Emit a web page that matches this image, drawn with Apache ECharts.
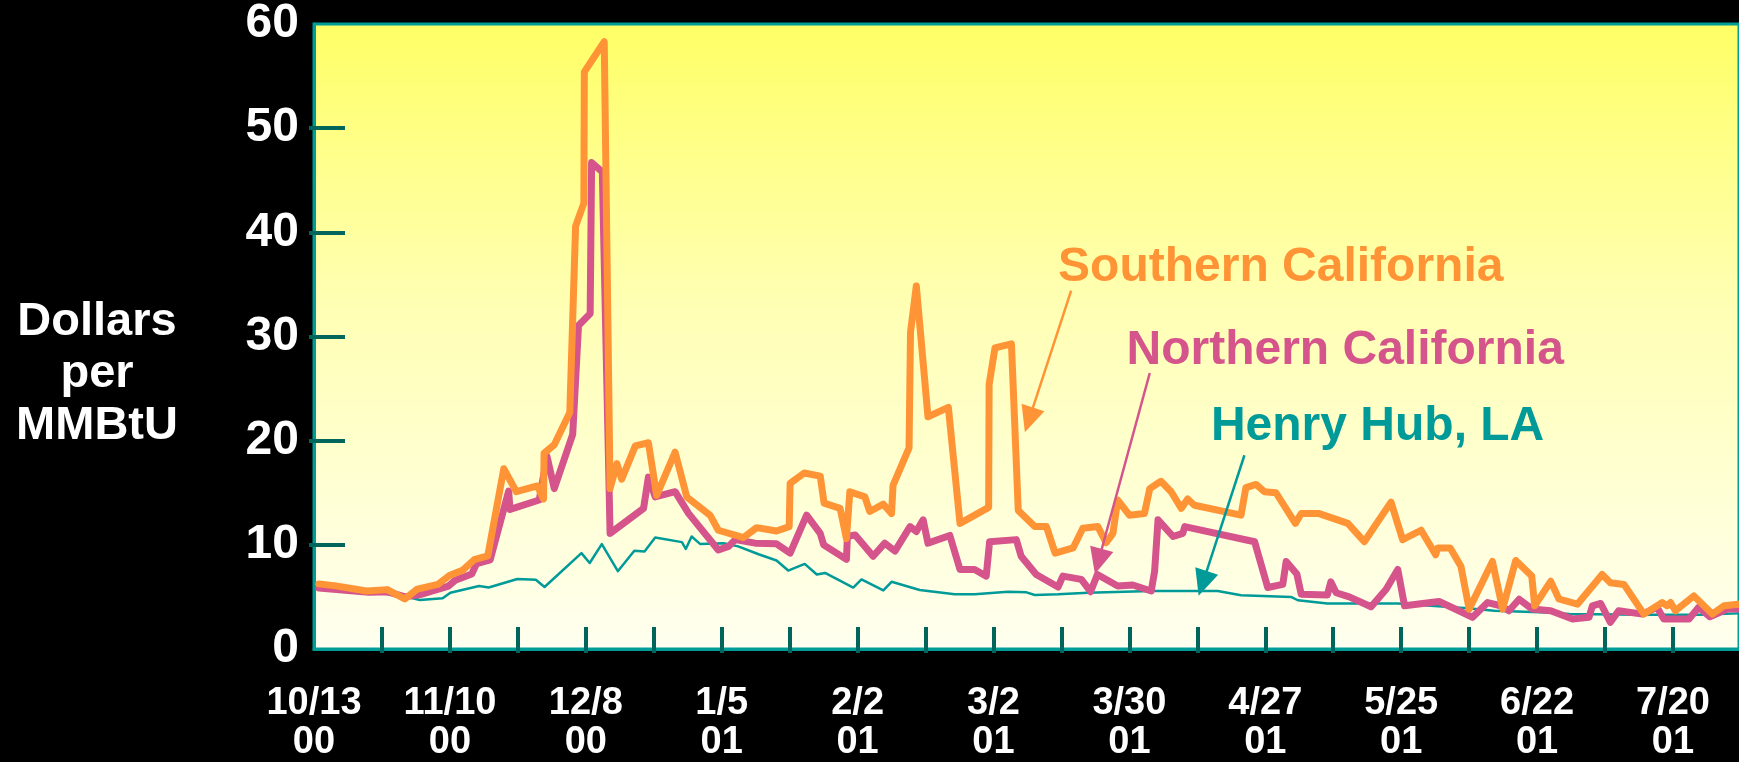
<!DOCTYPE html>
<html>
<head>
<meta charset="utf-8">
<title>California Natural Gas Prices</title>
<script src="https://cdn.jsdelivr.net/npm/echarts@6/dist/echarts.min.js"></script>
<style>
  html, body { margin: 0; padding: 0; background: #000; }
  #chart { width: 1739px; height: 762px; }
</style>
</head>
<body>
<div id="chart"></div>
<script>
// Days are counted from Friday 10/13/2000; prices in dollars per MMBtu.
const dateLabels = ['10/13\n00', '11/10\n00', '12/8\n00', '1/5\n01', '2/2\n01', '3/2\n01',
                    '3/30\n01', '4/27\n01', '5/25\n01', '6/22\n01', '7/20\n01'];
const labelDays = [0, 28, 56, 84, 112, 140, 168, 196, 224, 252, 280];
const tickDays = [14, 28, 42, 56, 70, 84, 98, 112, 126, 140, 154, 168, 182, 196, 210, 224, 238, 252, 266, 280];
const priceTicks = [10, 20, 30, 40, 50];

const southernCalifornia = [
  [1.0, 6.25], [4.5, 6.06], [10.8, 5.57], [15.1, 5.7], [18.7, 4.8], [21.3, 5.75], [25.5, 6.2],
  [27.9, 7.05], [30.6, 7.55], [33.0, 8.57], [35.8, 8.93], [39.1, 17.3], [41.7, 15.1], [46.0, 15.65],
  [47.3, 14.4], [47.4, 18.8], [49.5, 19.6], [52.7, 22.7], [53.9, 40.6], [55.6, 42.8], [55.7, 55.4],
  [59.8, 58.3], [61.0, 15.4], [62.4, 17.8], [63.4, 16.3], [66.2, 19.5], [68.9, 19.8], [70.6, 14.75],
  [74.4, 18.9], [76.8, 14.6], [81.6, 12.85], [83.3, 11.4], [88.5, 10.7], [91.2, 11.65], [95.3, 11.33],
  [97.9, 11.75], [98.1, 15.9], [101.0, 16.9], [104.3, 16.6], [105.1, 14.0], [108.4, 13.5], [109.7, 10.6],
  [110.4, 15.1], [113.5, 14.6], [114.5, 13.2], [117.3, 13.9], [119.0, 13.0], [119.3, 15.7], [122.6, 19.3],
  [122.9, 30.4], [124.1, 34.85], [126.5, 22.3], [130.7, 23.2], [133.1, 12.06], [139.0, 13.6], [139.1, 25.4],
  [140.3, 28.9], [143.7, 29.3], [145.1, 13.3], [148.5, 11.75], [150.9, 11.75], [152.7, 9.2], [156.4, 9.7],
  [158.4, 11.6], [161.5, 11.75], [163.2, 10.2], [164.6, 11.1], [165.6, 14.3], [168.0, 12.85], [171.1, 13.0],
  [172.2, 15.4], [174.5, 16.1], [176.6, 15.1], [178.7, 13.5], [180.0, 14.4], [181.4, 13.8], [191.0, 12.85],
  [192.0, 15.5], [194.1, 15.8], [195.8, 15.1], [198.2, 15.0], [202.2, 12.06], [203.4, 13.0], [207.1, 13.0],
  [213.0, 12.06], [216.4, 10.3], [221.9, 14.1], [224.3, 10.5], [228.1, 11.4], [231.1, 9.05], [231.5, 9.7],
  [234.1, 9.7], [236.3, 7.95], [238.0, 3.83], [242.8, 8.4], [244.9, 3.83], [247.6, 8.5], [250.9, 7.0],
  [251.5, 4.15], [254.8, 6.5], [256.5, 4.8], [260.3, 4.3], [265.4, 7.15], [267.1, 6.36], [269.9, 6.2],
  [274.0, 3.35], [277.8, 4.46], [278.8, 4.15], [279.5, 4.46], [280.5, 3.67], [284.3, 5.1], [288.1, 3.35],
  [290.5, 4.15], [293.5, 4.3]
];

const northernCalifornia = [
  [1.0, 5.85], [6.4, 5.65], [11.3, 5.45], [15.0, 5.5], [18.8, 5.0], [22.2, 5.26], [27.7, 6.04],
  [29.1, 6.6], [32.5, 7.2], [33.5, 8.2], [36.3, 8.56], [40.1, 15.15], [40.4, 13.4], [46.4, 14.3],
  [48.0, 18.5], [49.5, 15.4], [53.3, 20.6], [54.5, 31.05], [56.9, 32.2], [57.2, 46.7], [59.4, 45.8],
  [61.0, 11.1], [67.9, 13.5], [68.9, 16.5], [70.3, 14.6], [74.4, 15.1], [77.2, 13.0], [83.3, 9.5],
  [85.4, 9.85], [86.8, 10.5], [90.9, 10.16], [95.3, 10.1], [98.1, 9.2], [101.5, 12.85], [104.3, 11.1],
  [105.0, 10.0], [109.7, 8.6], [109.9, 10.8], [111.5, 10.95], [115.2, 8.9], [117.6, 10.16], [119.7, 9.4],
  [122.8, 11.75], [124.1, 11.27], [125.5, 12.4], [126.5, 10.16], [131.0, 10.9], [133.1, 7.63], [136.1, 7.63],
  [138.5, 7.0], [139.2, 10.3], [144.7, 10.5], [145.7, 8.9], [148.8, 7.15], [153.3, 5.95], [154.3, 7.0],
  [158.1, 6.68], [160.0, 5.5], [161.4, 7.15], [165.6, 6.05], [168.7, 6.14], [172.5, 5.57], [173.2, 7.47],
  [173.9, 12.4], [177.0, 10.8], [179.0, 11.1], [179.4, 11.75], [193.8, 10.3], [196.5, 5.9], [199.6, 6.2],
  [200.3, 8.4], [202.5, 7.2], [203.4, 5.25], [208.8, 5.19], [209.5, 6.45], [210.6, 5.4], [213.3, 5.0],
  [217.8, 4.05], [220.9, 5.73], [223.3, 7.63], [224.7, 4.15], [231.8, 4.56], [235.9, 3.67], [238.7, 3.04],
  [241.8, 4.46], [244.5, 4.15], [246.2, 3.67], [248.3, 4.78], [251.0, 3.83], [254.8, 3.67], [259.3, 2.88],
  [262.7, 3.04], [263.4, 4.15], [265.1, 4.37], [267.1, 2.56], [268.8, 3.67], [273.7, 3.35], [276.7, 4.0],
  [278.1, 2.88], [283.3, 2.88], [285.3, 4.0], [287.6, 3.1], [291.2, 3.83], [293.5, 3.83]
];

const henryHub = [
  [1.0, 5.8], [6.4, 5.65], [13.3, 5.38], [18.0, 5.1], [20.2, 4.9], [21.8, 4.7], [26.5, 4.87],
  [28.1, 5.4], [34.0, 6.05], [36.0, 5.9], [41.9, 6.72], [45.7, 6.65], [47.5, 5.95], [55.1, 9.2],
  [56.8, 8.26], [59.3, 10.07], [62.6, 7.47], [66.0, 9.43], [68.1, 9.37], [70.3, 10.7], [75.8, 10.26],
  [76.6, 9.6], [77.8, 10.8], [79.6, 10.07], [84.4, 10.16], [87.4, 9.85], [91.6, 9.1], [95.3, 8.5],
  [97.7, 7.53], [101.1, 8.17], [103.6, 7.15], [105.3, 7.3], [111.1, 5.9], [112.8, 6.68], [117.3, 5.63],
  [119.0, 6.45], [124.8, 5.67], [132.0, 5.25], [136.1, 5.25], [143.0, 5.5], [146.8, 5.44], [148.5, 5.19],
  [153.3, 5.25], [159.5, 5.4], [172.5, 5.57], [186.2, 5.57], [191.0, 5.16], [201.3, 5.0], [202.7, 4.68],
  [208.8, 4.37], [223.3, 4.37], [237.7, 3.92], [243.2, 3.67], [254.1, 3.51], [258.7, 3.35], [274.0, 3.29],
  [285.6, 3.29], [293.5, 3.42]
];

// Series captions: [text, anchor day, anchor price] (left edge, vertically centred)
const captions = {
  south: ['Southern California', 153.3, 36.6],
  north: ['Northern California', 167.4, 28.6],
  henry: ['Henry Hub, LA', 184.8, 21.3]
};
// Pointer arrows: [from day, from price, to day, to price]
const pointers = {
  south: [156.0, 34.4, 147.3, 22.0],
  north: [172.2, 26.5, 161.6, 8.4],
  henry: [191.7, 18.6, 183.1, 6.3]
};

const COLORS = { south: '#FF9436', north: '#D4548B', henry: '#009A98' };
const FRAME = '#009C98';
const TICK = '#00665C';
const FONT = '"Liberation Sans", Arial, Helvetica, sans-serif';

const chart = echarts.init(document.getElementById('chart'), null, { renderer: 'canvas' });

function arrow(key) {
  const p = pointers[key];
  return {
    silent: true,
    symbol: ['none', 'triangle'],
    symbolSize: [24, 26],
    label: { show: false },
    emphasis: { disabled: true },
    lineStyle: { color: COLORS[key], width: 2.5, type: 'solid' },
    itemStyle: { color: COLORS[key] },
    data: [[{ coord: [p[0], p[1]] }, { coord: [p[2], p[3]] }]]
  };
}

function lineSeries(key, name, data, width, z) {
  return {
    name: name,
    type: 'line',
    data: data,
    showSymbol: false,
    symbol: 'none',
    z: z,
    lineStyle: { color: COLORS[key], width: width, cap: 'round', join: 'round' },
    itemStyle: { color: COLORS[key] },
    markLine: arrow(key)
  };
}

const xBase = { type: 'value', min: 0, max: 293.6, gridIndex: 0, position: 'bottom', splitLine: { show: false } };
const yBase = { type: 'value', min: 0, max: 60, interval: 10, gridIndex: 0, position: 'left', splitLine: { show: false } };

chart.setOption({
  backgroundColor: '#000000',
  animation: false,
  grid: {
    left: 314, right: -2, top: 20, bottom: 110,
    show: true,
    borderColor: FRAME,
    borderWidth: 3,
    backgroundColor: new echarts.graphic.LinearGradient(0, 0, 0, 1, [
      { offset: 0, color: '#FFFF66' },
      { offset: 0.45, color: '#FFFFB4' },
      { offset: 1, color: '#FFFFF0' }
    ])
  },
  xAxis: [
    Object.assign({}, xBase, {
      axisLine: { show: true, lineStyle: { color: FRAME, width: 3 } },
      axisTick: { show: true, inside: true, length: 22, customValues: tickDays, lineStyle: { color: TICK, width: 4 } },
      axisLabel: {
        show: true,
        customValues: labelDays,
        formatter: function (v) { return dateLabels[labelDays.indexOf(Math.round(v))] || ''; },
        color: '#FFFFFF',
        fontFamily: FONT,
        fontWeight: 'bold',
        fontSize: 38,
        lineHeight: 39,
        margin: 35
      }
    }),
    Object.assign({}, xBase, {
      axisLine: { show: false },
      axisTick: { show: true, inside: false, length: 4, customValues: tickDays, lineStyle: { color: TICK, width: 4 } },
      axisLabel: { show: false }
    })
  ],
  yAxis: [
    Object.assign({}, yBase, {
      axisLine: { show: true, lineStyle: { color: FRAME, width: 3 } },
      axisTick: { show: true, inside: true, length: 31, customValues: priceTicks, lineStyle: { color: TICK, width: 4 } },
      axisLabel: {
        show: true,
        color: '#FFFFFF',
        fontFamily: FONT,
        fontWeight: 'bold',
        fontSize: 48,
        padding: [14, 0, 0, 0],
        margin: 15
      }
    }),
    Object.assign({}, yBase, {
      axisLine: { show: false },
      axisTick: { show: true, inside: false, length: 5, customValues: priceTicks, lineStyle: { color: TICK, width: 4 } },
      axisLabel: { show: false }
    })
  ],
  series: [
    lineSeries('henry', 'Henry Hub, LA', henryHub, 2.5, 2),
    lineSeries('north', 'Northern California', northernCalifornia, 7, 3),
    lineSeries('south', 'Southern California', southernCalifornia, 7, 4)
  ]
});

// Captions placed in data coordinates, plus the y-axis title on the left.
const graphics = [{
  type: 'text',
  left: 16,
  top: 296,
  style: {
    text: 'Dollars\nper\nMMBtU',
    fill: '#FFFFFF',
    font: 'bold 47px ' + FONT,
    textAlign: 'center',
    lineHeight: 52,
    width: 162
  }
}];
Object.keys(captions).forEach(function (key) {
  const c = captions[key];
  const pt = chart.convertToPixel({ gridIndex: 0 }, [c[1], c[2]]);
  graphics.push({
    type: 'text',
    x: pt[0],
    y: pt[1],
    z: 10,
    style: {
      text: c[0],
      fill: COLORS[key],
      font: 'bold 48px ' + FONT,
      textAlign: 'left',
      textVerticalAlign: 'middle'
    }
  });
});
chart.setOption({ graphic: graphics });
</script>
</body>
</html>
